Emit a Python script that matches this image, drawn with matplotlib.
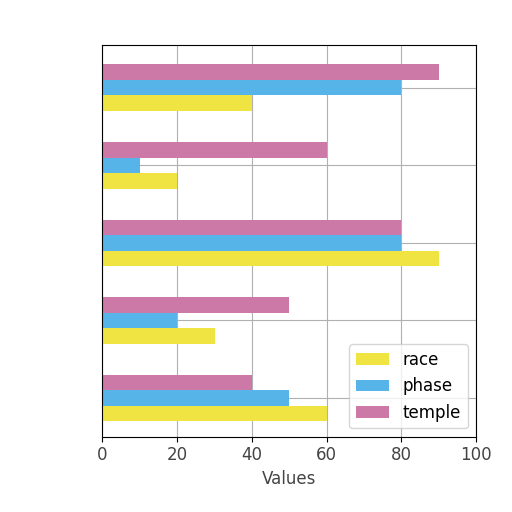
import matplotlib
matplotlib.use('Agg')
import matplotlib.pyplot as plt
import numpy as np

groups = np.arange(5)
race = [60, 30, 90, 20, 40]
phase = [50, 20, 80, 10, 80]
temple = [40, 50, 80, 60, 90]

fig = plt.figure(figsize=(5.12, 5.12), dpi=100)
ax = fig.add_axes([0.2, 0.147, 0.73, 0.765])

h = 0.2
ax.barh(groups - h, race, height=h, color='#f0e442', label='race')
ax.barh(groups, phase, height=h, color='#56b4e9', label='phase')
ax.barh(groups + h, temple, height=h, color='#cc79a7', label='temple')

ax.set_xlim(0, 100)
ax.set_ylim(-0.5, 4.55)
ax.set_yticks(groups)
ax.set_yticklabels([])
ax.tick_params(axis='y', length=0)
ax.set_xticks(np.arange(0, 101, 20))
ax.grid(True, color='#b0b0b0', linewidth=0.8)
ax.set_axisbelow(True)
ax.set_xlabel('Values', fontsize=12, color='#444444')
ax.tick_params(axis='x', labelsize=12, labelcolor='#444444')
ax.legend(loc='lower right', fontsize=12)

fig.savefig('out.png', dpi=100)
